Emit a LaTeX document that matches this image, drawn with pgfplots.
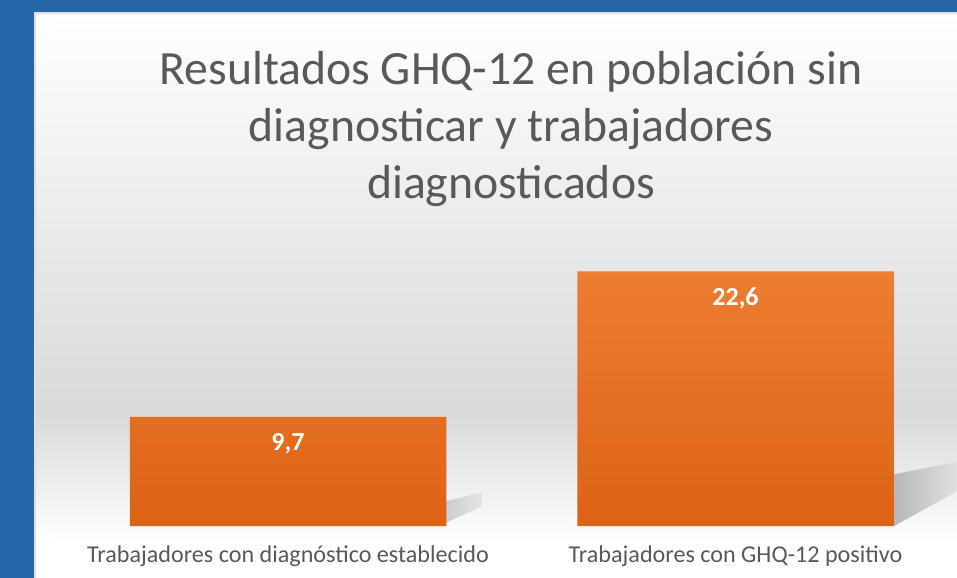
\documentclass[border=0pt]{standalone}
\usepackage{pgfplots}
\pgfplotsset{compat=1.18}
\usepackage{fontspec}
\setmainfont{Carlito}
\definecolor{frameblue}{HTML}{2466A8}
\definecolor{txtgray}{HTML}{595959}
\definecolor{bartop}{HTML}{ED7D31}
\definecolor{barbot}{HTML}{DC6214}
\definecolor{midgray}{HTML}{D9D9D9}
\begin{document}
\begin{tikzpicture}[x=0.75pt,y=0.75pt]
\useasboundingbox (0,0) rectangle (957,578);
\clip (0,0) rectangle (957,578);
\fill[frameblue] (0,0) rectangle (957,578);
% panel
\shade[top color=white, bottom color=midgray] (34,165) rectangle (957,565);
\shade[top color=midgray, bottom color=white] (34,35) rectangle (957,165.5);
\fill[white] (34,0) rectangle (957,35.5);
\draw[gray!25, line width=1.5] (35,0) -- (35,565) -- (957,565);
% title
\node[text=txtgray, font=\fontsize{35.8}{42.6}\selectfont, align=center, anchor=center] at (511,449)
  {Resultados GHQ-12 en población sin\\diagnosticar y trabajadores\\diagnosticados};
\begin{axis}[
  at={(34,46)}, anchor=south west,
  scale only axis, width=692.25pt, height=225pt,
  xmin=34, xmax=957, ymin=0, ymax=26.62,
  axis line style={draw=none}, tick style={draw=none},
  ytick=\empty,
  xtick={288,735.5},
  xticklabels={Trabajadores con diagnóstico establecido, Trabajadores con GHQ-12 positivo},
  xticklabel style={anchor=center, yshift=-22.5pt, text=txtgray, font=\fontsize{18.1}{21}\selectfont},
  clip=false,
]
% shadows
\shade[left color=black!28, right color=midgray!80!white, draw=none]
  (axis cs:894,0) -- (axis cs:894,4.6) -- (axis cs:957,5.7) -- (axis cs:957,3.11) -- cycle;
\shade[left color=black!20, right color=midgray!70!white, draw=none]
  (axis cs:446,0.3) -- (axis cs:446,2.22) -- (axis cs:482,3.0) -- (axis cs:482,1.77) -- cycle;
\addplot[ybar, bar width=316.5, draw=none, top color=bartop, bottom color=barbot,
  nodes near coords={\pgfmathprintnumber[assume math mode=true,use comma,fixed,fixed zerofill,precision=1]{\pgfplotspointmeta}},
  every node near coord/.append style={anchor=center, yshift=-20.25pt, text=white, font=\fontsize{19.5}{22}\selectfont\bfseries}]
  coordinates {(288,9.7) (735.5,22.6)};
\end{axis}
\end{tikzpicture}
\end{document}
